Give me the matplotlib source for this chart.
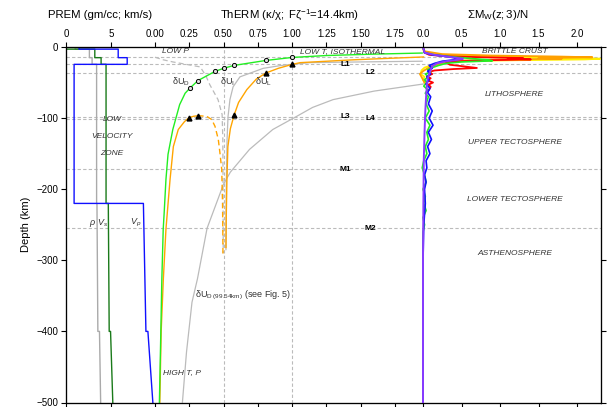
import numpy as np
import matplotlib
matplotlib.use('Agg')
from matplotlib import pyplot as plt

plt.rcParams['font.family'] = ['Liberation Sans', 'DejaVu Sans']
plt.rcParams['mathtext.fontset'] = 'custom'
plt.rcParams['mathtext.rm'] = 'Liberation Sans'
plt.rcParams['mathtext.it'] = 'Liberation Sans:italic'
plt.rcParams['mathtext.bf'] = 'Liberation Sans:bold'

# --- PREM step profiles (depth km) ---
prem_z = [0, 3, 3, 15, 15, 24.4, 24.4, 220, 220, 400, 400, 500]
prem_vp = [1.45, 1.45, 5.8, 5.8, 6.8, 6.8, 0.9, 0.9, 8.6, 8.88, 9.1, 9.65]
prem_vs = [0, 0, 3.2, 3.2, 3.9, 3.9, 4.45, 4.45, 4.7, 4.8, 4.95, 5.2]
prem_rho = [1.02, 1.02, 2.6, 2.6, 2.9, 2.9, 3.4, 3.4, 3.44, 3.54, 3.72, 3.85]

# --- ThERM curves (depth km, value) ---
dUD_z = [8.5, 10, 12, 14.7, 18.9, 25.9, 29.8, 34.3, 47.2, 57.8, 65, 81, 116, 151, 186, 233, 256, 326, 406, 500]
dUD_v = [1.95, 1.6, 1.25, 1.0, 0.81, 0.577, 0.504, 0.438, 0.314, 0.255, 0.22, 0.18, 0.13, 0.095, 0.08, 0.067, 0.06, 0.05, 0.042, 0.032]
dUD_marks = [3, 4, 5, 6, 7, 8, 9]

dUL_z = [14, 16, 18, 22, 24.5, 30, 36.5, 45, 60, 78, 96, 115, 140, 186, 240, 282]
dUL_v = [1.96, 1.7, 1.45, 1.06, 1.0, 0.9, 0.81, 0.74, 0.67, 0.61, 0.577, 0.55, 0.532, 0.525, 0.52, 0.518]
dUL_marks = [4, 6, 10]

arch_z = [96.6, 97.5, 102, 111.6, 130, 149, 172, 220, 260, 291]
arch_v = [0.314, 0.377, 0.414, 0.438, 0.462, 0.474, 0.487, 0.493, 0.495, 0.496]

left_z = [500, 400, 326, 256, 186, 140, 116, 105, 99.4, 97.5, 96.6]
left_v = [0.035, 0.045, 0.061, 0.08, 0.11, 0.134, 0.17, 0.215, 0.248, 0.28, 0.314]
left_marks = [8, 10]

dUI_dash_z = [14.4, 18, 21, 28, 40, 53, 74, 95, 130, 200, 290]
dUI_dash_v = [0.0, 0.06, 0.13, 0.33, 0.37, 0.40, 0.46, 0.49, 0.495, 0.497, 0.498]

dUI_z = [20, 21, 22, 26, 30, 42, 56, 74, 98, 130, 200, 285]
dUI_v = [1.95, 1.5, 1.13, 0.92, 0.79, 0.62, 0.57, 0.547, 0.533, 0.526, 0.52, 0.518]

dUD99_z = [52, 62, 74, 85, 98, 116, 144, 176, 193, 255, 326, 359, 429, 500]
dUD99_v = [1.96, 1.6, 1.30, 1.15, 1.03, 0.86, 0.69, 0.55, 0.50, 0.38, 0.31, 0.27, 0.23, 0.20]

# --- Sum Mw(z;3)/N profiles ---
mw_yellow_z = [0, 6, 10, 12, 13.5, 15, 16.5, 17.5, 18.5, 19.5, 21, 24, 29, 33, 38, 42, 46, 50]
mw_yellow = [0.0, 0.01, 0.12, 0.5, 1.1, 1.7, 2.3, 2.1, 1.3, 0.6, 0.35, 0.15, 0.02, -0.02, -0.03, 0.02, 0.0, 0.02]
mw_orange_z = [0, 6, 10, 12, 13.5, 14.5, 15.5, 16.5, 17.5, 19, 21, 24, 27, 30, 34, 38, 42, 46, 50]
mw_orange = [0.0, 0.02, 0.25, 0.9, 1.8, 2.2, 1.5, 1.8, 1.0, 0.5, 0.3, 0.2, 0.12, 0.06, 0.0, -0.04, -0.02, 0.0, 0.02]
mw_red_z = [0, 8, 11, 13, 14.5, 15.5, 16.5, 17.5, 18.5, 20, 22, 25, 27.5, 29.5, 31, 33, 35, 38, 41, 44, 47, 50, 53, 56, 60]
mw_red = [0.0, 0.02, 0.08, 0.3, 0.8, 1.3, 1.1, 1.4, 0.9, 0.45, 0.3, 0.35, 0.55, 0.7, 0.4, 0.15, 0.08, 0.12, 0.05, 0.1, 0.06, 0.13, 0.07, 0.1, 0.08]
mw_green_z = [0, 8, 11, 14, 16, 18, 19.5, 21, 23, 26, 29, 32, 35, 38, 42, 46, 50, 55, 60, 65, 70, 80, 90, 100, 110,
              120, 130, 140, 150, 160, 170, 180, 190, 200, 210, 220, 230, 240, 250, 260, 300, 400, 500]
mw_green = [0.0, 0.02, 0.15, 0.4, 0.6, 0.85, 0.9, 0.5, 0.3, 0.2, 0.12, 0.06, 0.1, 0.03, 0.07, 0.02, 0.05, 0.01, 0.06, 0.03, 0.07, 0.04, 0.08, 0.03, 0.09,
            0.05, 0.07, 0.03, 0.05, 0.01, -0.01, 0.02, 0.04, 0.0, 0.03, 0.01, 0.04, 0.0, 0.02, 0.0, 0.0, 0.0, 0.0]
mw_blue_z = [0, 8, 11, 14, 16, 18, 20, 23, 26, 30, 34, 38, 42, 46, 52, 58, 64, 70, 80, 90, 100, 110, 120, 130, 140,
             150, 160, 170, 180, 190, 200, 220, 250, 300, 400, 500]
mw_blue = [0.0, 0.02, 0.12, 0.35, 0.44, 0.4, 0.25, 0.15, 0.08, 0.12, 0.06, 0.1, 0.05, 0.08, 0.04, 0.09, 0.06, 0.1, 0.07, 0.12, 0.08, 0.13, 0.07, 0.11, 0.06,
           0.09, 0.04, 0.05, 0.02, 0.04, 0.02, 0.03, 0.01, 0.0, 0.0, 0.0]
mw_purple_z = [0, 8, 11, 14, 16.5, 18, 20, 23, 27, 32, 38, 45, 55, 70, 90, 120, 160, 220, 300, 500]
mw_purple = [0.0, 0.02, 0.15, 0.35, 0.52, 0.45, 0.3, 0.18, 0.12, 0.1, 0.08, 0.06, 0.05, 0.04, 0.03, 0.02, 0.01, 0.005, 0.0, 0.0]

# reference depths
layer_z = [14.4, 24, 36, 98, 101, 172, 255]
layer_names = ['', 'L1', 'L2', 'L3', 'L4', 'M1', 'M2']
layer_x = [0, 1.39, 1.57, 1.39, 1.57, 1.39, 1.57]

grey = '#bbbbbb'
neg = lambda z: -np.asarray(z)

fig = plt.figure(figsize=(6.07, 4.07), dpi=100)
ax = fig.add_axes([66/607, 4.5/407, 535/607, 355.5/407])
ax2 = ax.twiny()
ax3 = ax.twiny()

ax.set_xlim(0, 535/9.0)
ax2.set_xlim(-89/137.0, 446/137.0)
ax3.set_xlim(-357/77.0, 178/77.0)
ax.set_ylim(-500, 0)

ax.set_xticks([0, 5])
ax2.set_xticks([0, 0.25, 0.5, 0.75, 1.0, 1.25, 1.5, 1.75])
ax2.set_xticklabels(['0.00', '0.25', '0.50', '0.75', '1.00', '1.25', '1.50', '1.75'])
ax3.set_xticks([0, 0.5, 1.0, 1.5, 2.0])
for a in (ax, ax2, ax3):
    a.tick_params(axis='x', top=True, bottom=True, labeltop=True, labelbottom=False,
                  direction='out', length=3.5, labelsize=7, pad=2)
ax.set_yticks([0, -100, -200, -300, -400, -500])
ax.tick_params(axis='y', left=True, right=True, labelright=False, direction='out',
               length=3.5, labelsize=7, pad=2)
ax.set_ylabel('Depth (km)', fontsize=8, labelpad=4)

# grid lines
for z in layer_z:
    ax.axhline(-z, color=grey, lw=0.8, ls=(0, (3, 2)), zorder=0)
for v in (0.5, 1.0):
    ax2.axvline(v, color=grey, lw=0.8, ls=(0, (3, 2)), zorder=0)
for z, n, x in zip(layer_z, layer_names, layer_x):
    if n:
        ax2.text(x, -z, n, fontsize=6, fontweight='bold', ha='center', va='center')

# PREM
ax.plot(prem_rho, neg(prem_z), color='#aaaaaa', lw=1)
ax.plot(prem_vs, neg(prem_z), color='#1a7a1a', lw=1)
ax.plot(prem_vp, neg(prem_z), color='#1010ff', lw=1)
ax.text(2.9, -248, r'$\rho$', fontsize=6.5, ha='center', va='center', color='#333333')
ax.text(4.05, -248, r'$V_s$', fontsize=6.5, ha='center', va='center', color='#333333')
ax.text(7.7, -248, r'$V_p$', fontsize=6.5, ha='center', va='center', color='#333333')
for t, z in zip(['LOW', 'VELOCITY', 'ZONE'], [102, 126, 150]):
    ax.text(5.1, -z, t, fontsize=6, style='italic', ha='center', va='center', color='#333333')

# ThERM
ax2.plot(dUD99_v, neg(dUD99_z), color=grey, lw=0.9)
ax2.plot(dUI_dash_v, neg(dUI_dash_z), color=grey, lw=0.9, ls=(0, (4, 2.5)))
ax2.plot(dUI_v, neg(dUI_z), color=grey, lw=0.9)
ax2.plot(arch_v, neg(arch_z), color='orange', lw=1, ls=(0, (4, 2.5)))
ax2.plot(left_v, neg(left_z), color='orange', lw=1, marker='^', markevery=left_marks,
         ms=3.5, mfc='black', mec='black')
ax2.plot(dUL_v, neg(dUL_z), color='orange', lw=1, marker='^', markevery=dUL_marks,
         ms=3.5, mfc='black', mec='black')
ax2.plot(dUD_v, neg(dUD_z), color='#22ee22', lw=1, marker='o', markevery=dUD_marks,
         ms=3, mfc='#dddddd', mec='black', mew=0.7)

ax2.text(0.153, -7, 'LOW P', fontsize=6, style='italic', ha='center', va='center', color='#333333')
ax2.text(1.365, -7, 'LOW T, ISOTHERMAL', fontsize=6, style='italic', ha='center', va='center', color='#333333')
ax2.text(0.056, -458, 'HIGH T, P', fontsize=6, style='italic', ha='left', va='center', color='#333333')
ax2.text(0.19, -49, r'$\mathregular{\delta U_D}$', fontsize=6.5, ha='center', va='center', color='#333333')
ax2.text(0.525, -49, r'$\mathregular{\delta U_I}$', fontsize=6.5, ha='center', va='center', color='#333333')
ax2.text(0.795, -49, r'$\mathregular{\delta U_L}$', fontsize=6.5, ha='center', va='center', color='#333333')
ax2.text(0.29, -349, r'$\mathregular{\delta U_{D\ (99.54km)}}$ (see Fig. 5)', fontsize=6.5,
         ha='left', va='center', color='#333333')

# Sum Mw
ax3.plot(mw_yellow, neg(mw_yellow_z), color='#ffee00', lw=1.3)
ax3.plot(mw_orange, neg(mw_orange_z), color='#ffa000', lw=1.3)
ax3.plot(mw_red, neg(mw_red_z), color='#ff0000', lw=1.3)
ax3.plot(mw_green, neg(mw_green_z), color='#22ee22', lw=1.2)
ax3.plot(mw_blue, neg(mw_blue_z), color='#1010ff', lw=1.2)
ax3.plot(mw_purple, neg(mw_purple_z), color='#8a3cff', lw=1.4)
for t, z in zip(['BRITTLE CRUST', 'LITHOSPHERE', 'UPPER TECTOSPHERE', 'LOWER TECTOSPHERE', 'ASTHENOSPHERE'],
                [7, 67, 134, 214, 290]):
    ax3.text(1.19, -z, t, fontsize=6, style='italic', ha='center', va='center', color='#333333')

fig.text(100/607, 1 - 15/407, 'PREM (gm/cc; km/s)', fontsize=8.2, ha='center', va='center')
fig.text(290/607, 1 - 15/407, r'ThERM ($\mathregular{\kappa/\chi;\ F\zeta^{-1}}$=14.4km)', fontsize=8.2,
         ha='center', va='center')
fig.text(498/607, 1 - 15/407, r'$\mathregular{\Sigma M_W(z;3)/N}$', fontsize=8.2, ha='center', va='center')

fig.savefig('out.png', dpi=100)
